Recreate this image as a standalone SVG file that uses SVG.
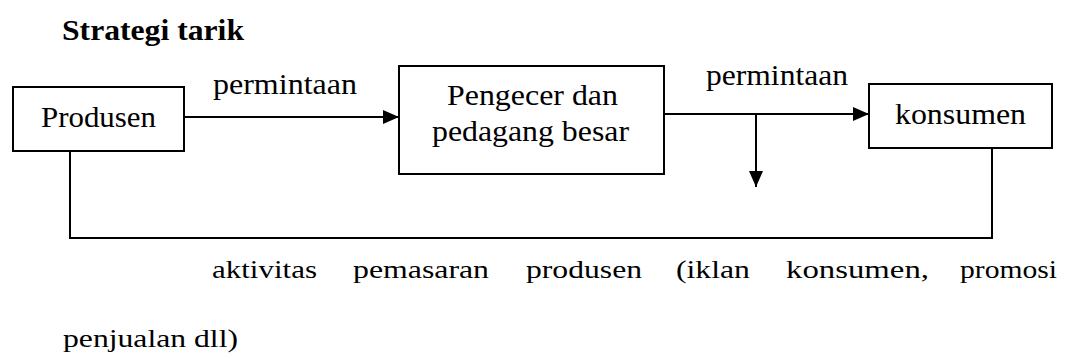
<svg xmlns="http://www.w3.org/2000/svg" width="1074" height="359" viewBox="0 0 1074 359">
<defs>
<marker id="ah" viewBox="0 0 16 14" refX="16" refY="7" markerWidth="16" markerHeight="14" markerUnits="userSpaceOnUse" orient="auto">
<path d="M0,0 L16,7 L0,14 z" fill="#000"/>
</marker>
</defs>
<rect width="1074" height="359" fill="#fff"/>
<g font-family="Liberation Serif, serif" font-size="30" fill="#000">
<text x="62" y="40" font-weight="bold" textLength="182" lengthAdjust="spacingAndGlyphs">Strategi tarik</text>
<g id="connectors">
<g fill="none" stroke="#000" stroke-width="2">
<line x1="184" y1="117" x2="399" y2="117" marker-end="url(#ah)"/>
<line x1="664" y1="114" x2="869" y2="114" marker-end="url(#ah)"/>
<line x1="756" y1="114" x2="756" y2="187" marker-end="url(#ah)"/>
<polyline points="70,151 70,238 992,238 992,148"/>
</g>
<text x="213" y="94" textLength="144" lengthAdjust="spacingAndGlyphs">permintaan</text>
<text x="706" y="85" textLength="142" lengthAdjust="spacingAndGlyphs">permintaan</text>
</g>
<g id="produsen">
<rect x="13" y="87" width="171" height="64" fill="#fff" stroke="#000" stroke-width="2"/>
<text x="41" y="127" textLength="115" lengthAdjust="spacingAndGlyphs">Produsen</text>
</g>
<g id="pengecer">
<rect x="399" y="66" width="265" height="108" fill="#fff" stroke="#000" stroke-width="2"/>
<text x="447" y="105" textLength="171" lengthAdjust="spacingAndGlyphs">Pengecer dan</text>
<text x="432" y="141" textLength="197" lengthAdjust="spacingAndGlyphs">pedagang besar</text>
</g>
<g id="konsumen">
<rect x="869" y="84" width="183" height="64" fill="#fff" stroke="#000" stroke-width="2"/>
<text x="895" y="124" textLength="131" lengthAdjust="spacingAndGlyphs">konsumen</text>
</g>
<g id="caption" font-size="25">
<text x="212" y="278" textLength="105" lengthAdjust="spacingAndGlyphs">aktivitas</text>
<text x="353" y="278" textLength="136" lengthAdjust="spacingAndGlyphs">pemasaran</text>
<text x="526" y="278" textLength="116" lengthAdjust="spacingAndGlyphs">produsen</text>
<text x="676" y="278" textLength="74" lengthAdjust="spacingAndGlyphs">(iklan</text>
<text x="786" y="278" textLength="143" lengthAdjust="spacingAndGlyphs">konsumen,</text>
<text x="960" y="278" textLength="97" lengthAdjust="spacingAndGlyphs">promosi</text>
<text x="63" y="347" textLength="175" lengthAdjust="spacingAndGlyphs">penjualan dll)</text>
</g>
</g>
</svg>
